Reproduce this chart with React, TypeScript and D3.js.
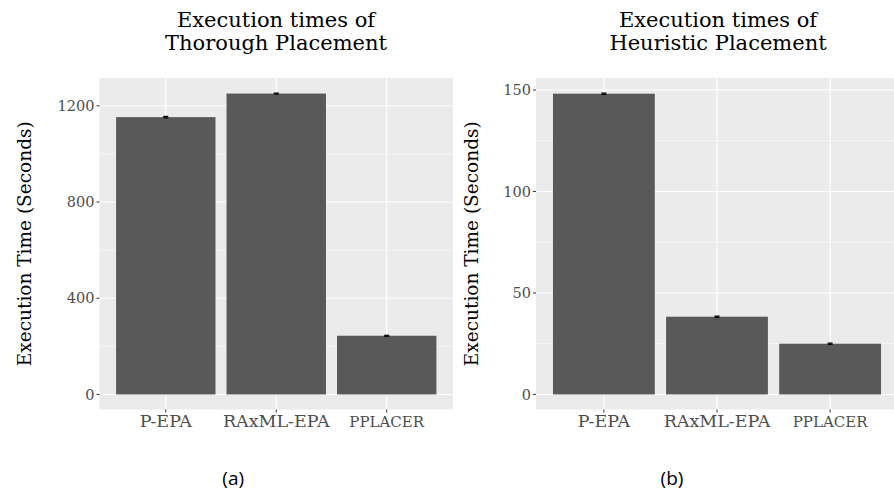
import React from "react";
import * as d3 from "d3";

// categories shared by both panels
const methods = ["P-EPA", "RAxML-EPA", "pplacer"];

// thorough placement (seconds)
const thoroughTimes = [1153, 1251, 244];
const thoroughErr = [3, 2, 2];
const thoroughTicks = [0, 400, 800, 1200];
const thoroughMinor = [200, 600, 1000];

// heuristic placement (seconds)
const heuristicTimes = [148.2, 38.3, 25.0];
const heuristicErr = [0.3, 0.3, 0.3];
const heuristicTicks = [0, 50, 100, 150];
const heuristicMinor = [25, 75, 125];

const serif = "'DejaVu Serif', 'Liberation Serif', serif";

function Panel({ title, values, errs, ticks, minor, left, right, titleX, axisX, caption }) {
  const top = 78;
  const bottom = 409.5;
  const maxV = d3.max(values.map((v, i) => v + errs[i]));
  const y = d3.scaleLinear().domain([-0.05 * maxV, 1.05 * maxV]).range([bottom, top]);
  const x = d3.scaleLinear().domain([0.4, 3.6]).range([left, right]);
  const step = x(2) - x(1);
  const barW = step * 0.9;
  const cx = (i) => x(i + 1);
  const mid = (left + Math.min(right, 894)) / 2;

  return (
    <g>
      {/* title */}
      <text x={titleX} y={27} textAnchor="middle" fontFamily={serif} fontSize={21} fill="#000">
        Execution times of
      </text>
      <text x={titleX} y={50} textAnchor="middle" fontFamily={serif} fontSize={21} fill="#000">
        {title}
      </text>

      {/* panel background */}
      <rect x={left} y={top} width={right - left} height={bottom - top} fill="#EBEBEB" />
      {minor.map((t) => (
        <line key={"mn" + t} x1={left} x2={right} y1={y(t)} y2={y(t)} stroke="#fff" strokeWidth={0.6} />
      ))}
      {ticks.map((t) => (
        <line key={"mj" + t} x1={left} x2={right} y1={y(t)} y2={y(t)} stroke="#fff" strokeWidth={1.1} />
      ))}
      {methods.map((m, i) => (
        <line key={"v" + m} x1={cx(i)} x2={cx(i)} y1={top} y2={bottom} stroke="#fff" strokeWidth={1.1} />
      ))}

      {/* bars */}
      {values.map((v, i) => (
        <rect key={"b" + i} x={cx(i) - barW / 2} y={y(v)} width={barW} height={y(0) - y(v)} fill="#595959" />
      ))}

      {/* error bars */}
      {values.map((v, i) => (
        <g key={"e" + i} stroke="#000" strokeWidth={1.2}>
          <line x1={cx(i) - 2.5} x2={cx(i) + 2.5} y1={y(v + errs[i])} y2={y(v + errs[i])} />
          <line x1={cx(i) - 2.5} x2={cx(i) + 2.5} y1={y(v - errs[i])} y2={y(v - errs[i])} />
          <line x1={cx(i)} x2={cx(i)} y1={y(v + errs[i])} y2={y(v - errs[i])} />
        </g>
      ))}

      {/* y axis */}
      {ticks.map((t) => (
        <g key={"yt" + t}>
          <line x1={left - 3} x2={left} y1={y(t)} y2={y(t)} stroke="#333" strokeWidth={1} />
          <text x={left - 5} y={y(t)} dy="0.35em" textAnchor="end" fontFamily={serif} fontSize={14.5} fill="#4D4D4D">
            {t}
          </text>
        </g>
      ))}
      <text
        transform={`translate(${axisX},${(top + bottom) / 2}) rotate(-90)`}
        textAnchor="middle"
        dy="0.35em"
        fontFamily={serif}
        fontSize={18.5}
        fill="#000"
      >
        Execution Time (Seconds)
      </text>

      {/* x axis */}
      {methods.map((m, i) => (
        <g key={"xt" + m}>
          <line x1={cx(i)} x2={cx(i)} y1={bottom} y2={bottom + 3} stroke="#333" strokeWidth={1} />
          {m === "pplacer" ? (
            <text
              x={cx(i)}
              y={427}
              textAnchor="middle"
              fontFamily={serif}
              fontSize={22}
              fill="#4D4D4D"
              style={{ fontVariant: "small-caps" }}
            >
              {m}
            </text>
          ) : (
            <text x={cx(i)} y={427} textAnchor="middle" fontFamily={serif} fontSize={17.5} fill="#4D4D4D">
              {m}
            </text>
          )}
        </g>
      ))}

      <text x={mid - 43} y={485} textAnchor="middle" fontFamily="'Open Sans', sans-serif" fontSize={19} fill="#000">
        {caption}
      </text>
    </g>
  );
}

export default function App() {
  return (
    <svg
      width={894}
      height={492}
      style={{ position: "absolute", left: 0, top: 0, background: "#fff" }}
    >
      <Panel
        title="Thorough Placement"
        values={thoroughTimes}
        errs={thoroughErr}
        ticks={thoroughTicks}
        minor={thoroughMinor}
        left={99.5}
        right={453}
        titleX={276}
        axisX={25}
        caption="(a)"
      />
      <Panel
        title="Heuristic Placement"
        values={heuristicTimes}
        errs={heuristicErr}
        ticks={heuristicTicks}
        minor={heuristicMinor}
        left={536}
        right={898}
        titleX={718}
        axisX={472}
        caption="(b)"
      />
    </svg>
  );
}
